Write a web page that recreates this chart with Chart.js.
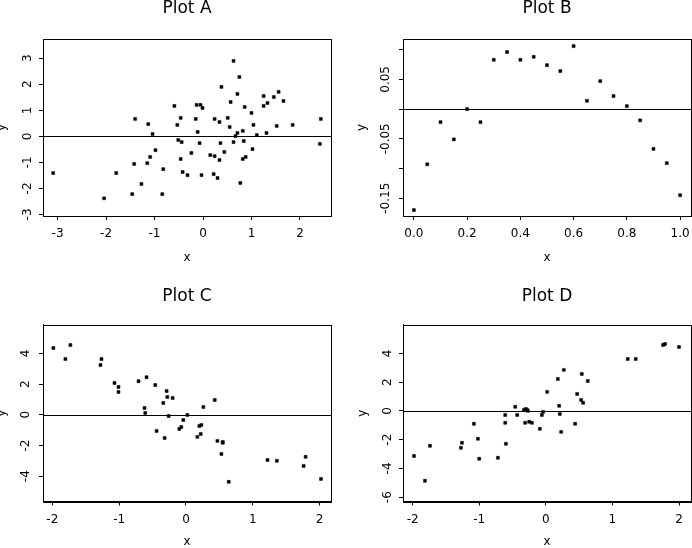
<!doctype html>
<html>

<head>
    <title>Plots A-D</title>
    <script src="https://cdn.jsdelivr.net/npm/chart.js"></script>
    <style>
        body { margin: 0; background: #fff; overflow: hidden; }
        #wrap { position: relative; width: 692px; height: 548px; overflow: hidden; }
        canvas { position: absolute; }
    </style>
</head>

<body>
    <div id="wrap">
        <canvas id="plotA" width="346" height="274" style="left:0;top:0"></canvas>
        <canvas id="plotB" width="356" height="274" style="left:346px;top:0"></canvas>
        <canvas id="plotC" width="346" height="274" style="left:0;top:274px"></canvas>
        <canvas id="plotD" width="356" height="274" style="left:346px;top:274px"></canvas>
    </div>

    <script>
    // --- data ---
    const plotAX = [-3.09, -2.04, -1.79, -1.46, -1.42, -1.40, -1.27, -1.15, -1.13, -1.09, -1.04, -0.98, -0.84, -0.82,
        -0.59, -0.53, -0.51, -0.46, -0.46, -0.44, -0.42, -0.32, -0.24, -0.15, -0.13, -0.11, -0.07, -0.05, -0.03, -0.01,
        0.15, 0.22, 0.24, 0.24, 0.30, 0.34, 0.34, 0.36, 0.38, 0.44, 0.51, 0.55, 0.57, 0.63, 0.63, 0.67, 0.71, 0.71,
        0.75, 0.77, 0.82, 0.82, 0.84, 0.86, 0.88, 1.00, 1.02, 1.04, 1.11, 1.25, 1.25, 1.31, 1.33, 1.46, 1.52, 1.56,
        1.66, 1.85, 2.41, 2.43];
    const plotAY = [-1.41, -2.38, -1.41, -2.22, -1.06, 0.67, -1.83, -1.03, 0.47, -0.79, 0.09, -0.53, -2.22, -1.26,
        1.17, 0.44, -0.14, 0.71, -0.87, -0.22, -1.37, -1.49, -0.64, 0.67, 1.21, 0.17, -0.26, 1.21, -1.49, 1.09,
        -0.72, -1.45, 0.67, -0.76, -1.60, -0.91, 0.55, -0.26, 1.90, -0.60, 0.71, 0.36, 1.32, 2.90, -0.22, 0.01, 0.13, 1.63,
        2.28, -1.79, 0.21, -0.87, -0.18, 1.13, -0.79, 0.90, -0.49, 0.44, 0.05, 1.55, 1.17, 0.13, 1.28, 1.51, 0.40, 1.71,
        1.36, 0.44, -0.29, 0.67];

    const plotBX = [0.00, 0.05, 0.10, 0.15, 0.20, 0.25, 0.30, 0.35, 0.40, 0.45, 0.50, 0.55, 0.60, 0.65, 0.70, 0.75,
        0.80, 0.85, 0.90, 0.95, 1.00];
    const plotBY = [-0.170, -0.093, -0.022, -0.051, 0.000, -0.022, 0.083, 0.096, 0.083, 0.088, 0.074, 0.064, 0.106,
        0.014, 0.047, 0.022, 0.005, -0.019, -0.067, -0.091, -0.145];

    const plotCX = [-1.985, -1.805, -1.73, -1.28, -1.265, -1.07, -1.01, -1.01, -0.71, -0.62, -0.61, -0.59, -0.46, -0.44,
        -0.34, -0.32, -0.29, -0.28, -0.26, -0.20, -0.10, -0.07, -0.04, 0.02, 0.17, 0.20, 0.22, 0.23, 0.26, 0.43, 0.47,
        0.53, 0.55, 0.55, 0.64, 1.22, 1.36, 1.76, 1.79, 2.02];
    const plotCY = [4.35, 3.63, 4.54, 3.24, 3.63, 2.07, 1.81, 1.49, 2.19, 0.44, 0.12, 2.45, 1.94, -1.05,
        0.77, -1.51, 1.55, 1.16, -0.08, 1.10, -0.92, -0.79, -0.34, -0.01, -1.44, -0.73, -1.25, -0.66, 0.51, 0.97, -1.70,
        -2.55, -1.77, -1.83, -4.37, -2.94, -3.00, -3.33, -2.74, -4.18];

    const plotDX = [-1.98, -1.815, -1.74, -1.275, -1.26, -1.08, -1.02, -1.00, -0.72, -0.61, -0.61, -0.60, -0.46, -0.43,
        -0.33, -0.31, -0.30, -0.28, -0.27, -0.25, -0.21, -0.09, -0.06, -0.04, 0.02, 0.18, 0.20, 0.21, 0.23, 0.27, 0.44,
        0.47, 0.53, 0.54, 0.56, 0.63, 1.23, 1.35, 1.76, 1.79, 2.00];
    const plotDY = [-3.13, -4.86, -2.43, -2.57, -2.22, -0.90, -1.94, -3.33, -3.26, -0.28, -0.83, -2.29, 0.28, -0.28,
        0.07, -0.83, 0.14, 0.07, 0.00, -0.76, -0.83, -1.25, -0.28, -0.07, 1.32, 2.22, 0.35, -0.21, -1.46, 2.85, -0.90,
        1.18, 0.76, 2.57, 0.56, 2.08, 3.61, 3.61, 4.58, 4.65, 4.44];

    // tick values and their labels
    const xTicksA = [-3, -2, -1, 0, 1, 2];
    const xLabelsA = ['-3', '-2', '-1', '0', '1', '2'];
    const yTicksA = [-3, -2, -1, 0, 1, 2, 3];
    const yLabelsA = ['-3', '-2', '-1', '0', '1', '2', '3'];

    const xTicksB = [0, 0.2, 0.4, 0.6, 0.8, 1.0];
    const xLabelsB = ['0.0', '0.2', '0.4', '0.6', '0.8', '1.0'];
    const yTicksB = [-0.15, -0.10, -0.05, 0, 0.05, 0.10];
    const yLabelsB = ['-0.15', '', '-0.05', '', '0.05', ''];

    const xTicksCD = [-2, -1, 0, 1, 2];
    const xLabelsCD = ['-2', '-1', '0', '1', '2'];
    const yTicksC = [-4, -2, 0, 2, 4];
    const yLabelsC = ['-4', '-2', '0', '2', '4'];
    const yTicksD = [-6, -4, -2, 0, 2, 4];
    const yLabelsD = ['-6', '-4', '-2', '0', '2', '4'];

    Chart.defaults.font.family = '"DejaVu Sans", sans-serif';
    Chart.defaults.color = '#000';

    // box around the plot region and the horizontal line at y = 0
    const frame = {
        id: 'frame',
        beforeDatasetsDraw(chart) {
            const a = chart.chartArea;
            const y0 = Math.round(chart.scales.y.getPixelForValue(0)) + 0.5;
            const ctx = chart.ctx;
            ctx.save();
            ctx.strokeStyle = '#000';
            ctx.lineWidth = 1;
            ctx.beginPath();
            ctx.moveTo(a.left, y0);
            ctx.lineTo(a.right, y0);
            ctx.stroke();
            ctx.restore();
        },
        afterDatasetsDraw(chart) {
            const a = chart.chartArea;
            const ctx = chart.ctx;
            const l = Math.round(a.left) + 0.5, t = Math.round(a.top) + 0.5;
            const r = Math.round(a.right) + 0.5, b = Math.round(a.bottom) + 0.5;
            ctx.save();
            ctx.strokeStyle = '#000';
            ctx.lineWidth = 1;
            ctx.strokeRect(l, t, r - l, b - t);
            ctx.restore();
        }
    };

    function makePlot(id, p) {
        const h = 274;
        const w = document.getElementById(id).width;
        return new Chart(document.getElementById(id), {
            type: 'scatter',
            data: {
                datasets: [{
                    data: p.xs.map((v, i) => ({ x: v, y: p.ys[i] })),
                    backgroundColor: '#000',
                    borderColor: '#000',
                    borderWidth: 0.5,
                    pointStyle: 'rect',
                    pointRadius: 2.1,
                    pointHoverRadius: 2.1
                }]
            },
            options: {
                responsive: false,
                animation: false,
                layout: { padding: { top: 0, left: 0, bottom: 0, right: w - p.box.right } },
                plugins: {
                    legend: { display: false },
                    tooltip: { enabled: false },
                    title: {
                        display: true,
                        text: p.title,
                        fullSize: false,
                        color: '#000',
                        font: { size: 17, weight: 'normal', lineHeight: 0.8 },
                        padding: { top: p.box.titleMid - 6.8, bottom: p.box.top - (p.box.titleMid - 6.8) - 13.6 }
                    }
                },
                scales: {
                    x: {
                        type: 'linear',
                        position: 'bottom',
                        min: p.xRange[0],
                        max: p.xRange[1],
                        afterBuildTicks: s => { s.ticks = p.xTicks.map(v => ({ value: v })); },
                        afterFit: s => { s.height = h - p.box.bottom; },
                        ticks: {
                            autoSkip: false,
                            maxRotation: 0,
                            padding: 7,
                            font: { size: 12 },
                            callback: (v, i) => p.xLabels[i]
                        },
                        grid: { drawOnChartArea: false, tickLength: 4, color: '#000' },
                        border: { color: '#000' },
                        title: {
                            display: true,
                            text: 'x',
                            font: { size: 12, lineHeight: 0.3 },
                            padding: { top: 0, bottom: h - p.box.xTitleMid - 1.8 }
                        }
                    },
                    y: {
                        type: 'linear',
                        position: 'left',
                        min: p.yRange[0],
                        max: p.yRange[1],
                        afterBuildTicks: s => { s.ticks = p.yTicks.map(v => ({ value: v })); },
                        afterFit: s => { s.width = p.box.left; },
                        ticks: {
                            autoSkip: false,
                            minRotation: 90,
                            maxRotation: 90,
                            crossAlign: 'center',
                            padding: p.box.yLabelPad,
                            font: { size: 12 },
                            callback: (v, i) => p.yLabels[i]
                        },
                        grid: { drawOnChartArea: false, tickLength: 4, color: '#000' },
                        border: { color: '#000' },
                        title: {
                            display: true,
                            text: 'y',
                            font: { size: 12, lineHeight: 0.3 },
                            padding: { top: p.box.yTitleX - 1.8, bottom: 0 }
                        }
                    }
                }
            },
            plugins: [frame]
        });
    }

    makePlot('plotA', {
        title: 'Plot A', xs: plotAX, ys: plotAY,
        xRange: [-3.30, 2.64], yRange: [-3.06, 3.74],
        xTicks: xTicksA, xLabels: xLabelsA, yTicks: yTicksA, yLabels: yLabelsA,
        box: { left: 43, top: 39, right: 331, bottom: 216, titleMid: 8.5, xTitleMid: 258, yTitleX: 2, yLabelPad: 5 }
    });
    makePlot('plotB', {
        title: 'Plot B', xs: plotBX, ys: plotBY,
        xRange: [-0.041, 1.041], yRange: [-0.180, 0.118],
        xTicks: xTicksB, xLabels: xLabelsB, yTicks: yTicksB, yLabels: yLabelsB,
        box: { left: 57, top: 39, right: 345, bottom: 216, titleMid: 8.5, xTitleMid: 258, yTitleX: 16, yLabelPad: -2.5 }
    });
    makePlot('plotC', {
        title: 'Plot C', xs: plotCX, ys: plotCY,
        xRange: [-2.14, 2.17], yRange: [-5.65, 5.85],
        xTicks: xTicksCD, xLabels: xLabelsCD, yTicks: yTicksC, yLabels: yLabelsC,
        box: { left: 43, top: 51, right: 331, bottom: 227.5, titleMid: 22.5, xTitleMid: 268, yTitleX: 2, yLabelPad: 7 }
    });
    makePlot('plotD', {
        title: 'Plot D', xs: plotDX, ys: plotDY,
        xRange: [-2.145, 2.18], yRange: [-6.30, 5.97],
        xTicks: xTicksCD, xLabels: xLabelsCD, yTicks: yTicksD, yLabels: yLabelsD,
        box: { left: 57, top: 51, right: 345, bottom: 227.5, titleMid: 22.5, xTitleMid: 268, yTitleX: 17, yLabelPad: 5 }
    });

    </script>
</body>

</html>
